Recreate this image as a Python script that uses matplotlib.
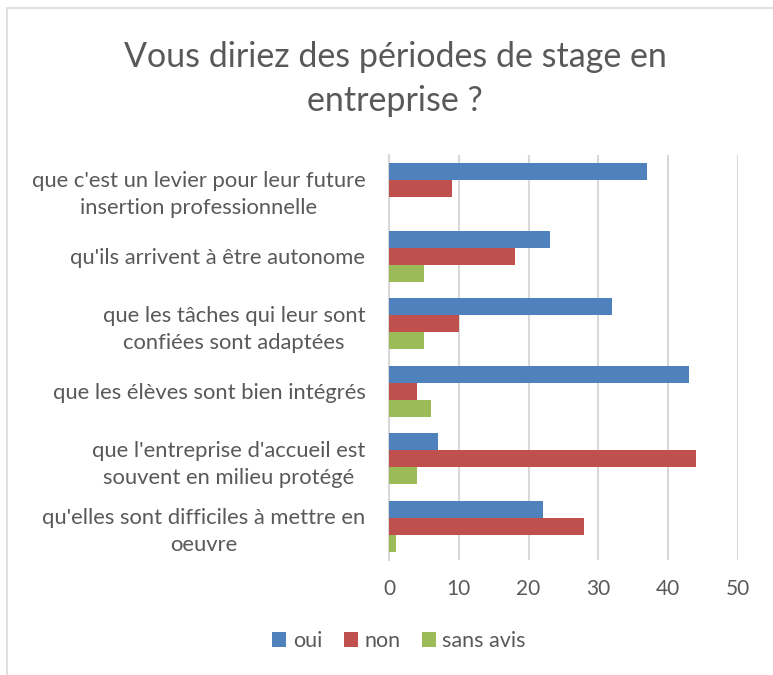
import matplotlib
matplotlib.use("Agg")
import matplotlib.pyplot as plt
from matplotlib.patches import Rectangle
import numpy as np

categories = [
    "que c'est un levier pour leur future\ninsertion professionnelle",
    "qu'ils arrivent à être autonome",
    "que les tâches qui leur sont\nconfiées sont adaptées",
    "que les élèves sont bien intégrés",
    "que l'entreprise d'accueil est\nsouvent en milieu protégé",
    "qu'elles sont difficiles à mettre en\noeuvre",
]
oui = [37, 23, 32, 43, 7, 22]
non = [9, 18, 10, 4, 44, 28]
sans_avis = [0, 5, 5, 6, 4, 1]
series_names = ["oui", "non", "sans avis"]
colors = ["#4F81BD", "#C0504D", "#9BBB59"]
xticks = [0, 10, 20, 30, 40, 50]

plt.rcParams['font.family'] = ['Lato', 'DejaVu Sans']
txt = "#595959"

W, H = 773, 675
fig = plt.figure(figsize=(W/100, H/100), dpi=100)
fig.patches.append(Rectangle((7/W, -0.1), 1.2, 1 - 8/H + 0.1, transform=fig.transFigure,
                             fill=False, edgecolor="#D9D9D9", linewidth=1.2))

ax = fig.add_axes([389/W, 1 - 560/H, (738-389)/W, (560-155)/H])
y = np.arange(len(categories))
h = 0.25
for i, (vals, name, c) in enumerate(zip([oui, non, sans_avis], series_names, colors)):
    ax.barh(y + (i - 1) * h, vals, height=h, color=c, label=name, zorder=3)

ax.set_ylim(len(categories) - 0.5, -0.5)
ax.set_xlim(0, 50)
ax.set_xticks(xticks)
ax.set_xticklabels([str(t) for t in xticks], color=txt, fontsize=15)
ax.set_yticks(y)
ax.set_yticklabels(categories, color=txt, fontsize=15.8, multialignment='center',
                   linespacing=1.45)
ax.tick_params(axis='both', length=0)
ax.tick_params(axis='y', pad=17)
ax.tick_params(axis='x', pad=14)
ax.grid(axis='x', color="#D9D9D9", linewidth=1.5, zorder=0)
for s in ['top', 'right', 'bottom']:
    ax.spines[s].set_visible(False)
ax.spines['left'].set_color("#D9D9D9")
ax.spines['left'].set_linewidth(1.5)

fig.text(395/W, 1 - 57/H, "Vous diriez des périodes de stage en", ha='center', va='center',
         fontsize=24.5, color=txt)
fig.text(395/W, 1 - 101/H, "entreprise ?", ha='center', va='center',
         fontsize=24.5, color=txt)

leg = fig.legend(loc='center', bbox_to_anchor=(399/W, 1 - 641/H), ncol=3, frameon=False,
                 fontsize=15.5, handlelength=0.65, handleheight=0.65, handletextpad=0.3,
                 columnspacing=1.0)
for t in leg.get_texts():
    t.set_color(txt)

fig.savefig("out.png", dpi=100)
